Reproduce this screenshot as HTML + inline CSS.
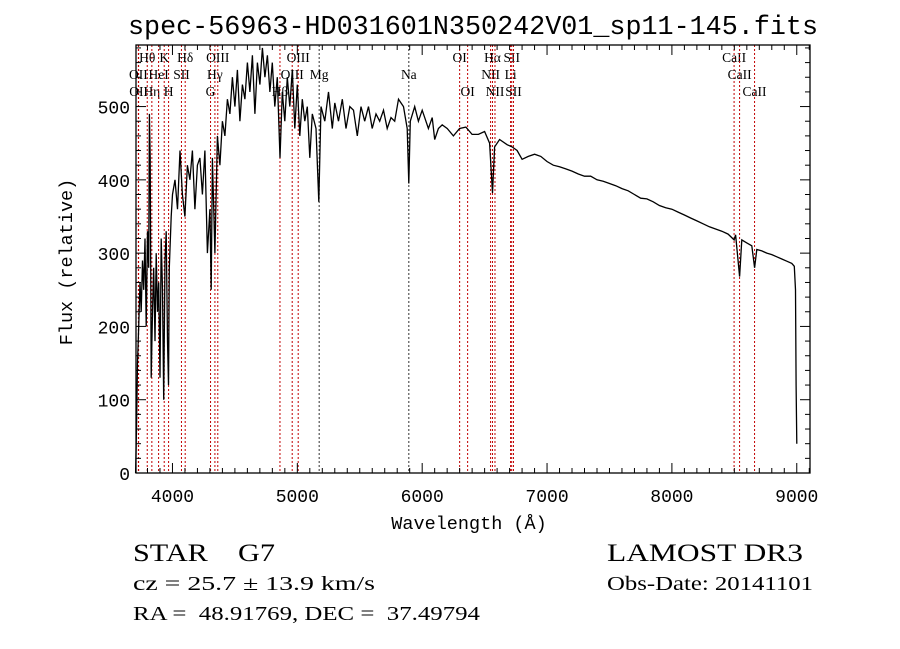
<!DOCTYPE html>
<html><head><meta charset="utf-8"><style>
body{margin:0;background:#fff;}
svg{display:block;}
text{font-family:"Liberation Mono",monospace;fill:#000;}
.lab{font-family:"Liberation Serif",serif;font-size:13.5px;}
.ser{font-family:"Liberation Serif",serif;}
</style></head><body>
<svg id="chart" width="900" height="649" viewBox="0 0 900 649" xmlns="http://www.w3.org/2000/svg">
<text x="128" y="34" font-size="26.5" textLength="690" lengthAdjust="spacingAndGlyphs">spec-56963-HD031601N350242V01_sp11-145.fits</text>
<g id="lines"></g>
<g id="axes"></g>
<path id="spec" fill="none" stroke="#000" stroke-width="1.3"/>
<text x="469" y="529" text-anchor="middle" font-size="18.5">Wavelength (Å)</text>
<text transform="translate(72,262) rotate(-90)" text-anchor="middle" font-size="18.5">Flux (relative)</text>
<text class="ser" x="133" y="561" font-size="25" textLength="142" lengthAdjust="spacingAndGlyphs" xml:space="preserve">STAR    G7</text>
<text class="ser" x="133" y="590" font-size="20" textLength="242" lengthAdjust="spacingAndGlyphs">cz = 25.7 ± 13.9 km/s</text>
<text class="ser" x="133" y="620" font-size="20" textLength="347" lengthAdjust="spacingAndGlyphs" xml:space="preserve">RA =  48.91769, DEC =  37.49794</text>
<text class="ser" x="607" y="561" font-size="25" textLength="196" lengthAdjust="spacingAndGlyphs">LAMOST DR3</text>
<text class="ser" x="607" y="590" font-size="20" textLength="206" lengthAdjust="spacingAndGlyphs">Obs-Date: 20141101</text>
</svg>
<script>
const wl=[3705,3712,3720,3730,3740,3750,3760,3770,3780,3790,3800,3810,3815,3822,3830,3840,3850,3860,3870,3880,3890,3900,3910,3920,3930,3940,3950,3960,3968,3975,3990,4000,4020,4040,4060,4080,4100,4120,4140,4160,4180,4200,4220,4240,4260,4280,4300,4310,4320,4340,4360,4380,4400,4420,4440,4460,4480,4500,4520,4540,4560,4580,4600,4620,4640,4660,4680,4700,4720,4740,4760,4780,4800,4820,4840,4861,4880,4900,4920,4940,4960,4980,5000,5020,5040,5060,5080,5100,5120,5150,5172,5190,5220,5250,5280,5300,5330,5360,5390,5420,5450,5480,5510,5540,5570,5600,5630,5660,5690,5720,5750,5780,5810,5850,5880,5893,5905,5940,5970,6000,6050,6080,6100,6130,6160,6200,6250,6300,6350,6400,6450,6500,6540,6563,6580,6620,6680,6720,6760,6800,6850,6900,6950,7000,7050,7100,7150,7200,7250,7300,7350,7400,7450,7500,7550,7600,7650,7700,7750,7800,7850,7900,7950,8000,8050,8100,8150,8200,8250,8300,8350,8400,8450,8498,8510,8542,8560,8600,8640,8662,8680,8720,8760,8800,8840,8880,8920,8960,8980,8990,8995,9000];
const flux=[0,60,150,200,260,220,290,250,320,200,330,280,490,430,130,220,280,180,300,220,260,130,320,250,100,290,330,180,120,280,350,380,400,360,440,380,350,420,400,440,360,420,430,380,440,300,360,250,430,300,460,420,480,460,510,490,540,500,550,480,530,510,560,520,570,490,560,530,580,540,570,520,560,500,540,430,520,480,540,500,550,470,530,460,510,480,500,430,490,470,370,500,480,520,470,505,480,510,470,500,495,460,500,480,500,470,490,480,495,470,485,480,510,500,470,395,480,500,480,495,470,485,455,470,475,470,460,470,472,462,462,466,450,382,445,455,448,445,440,428,432,435,432,425,420,418,415,412,408,405,405,400,398,395,392,388,385,380,375,374,370,365,362,360,356,352,348,344,340,336,333,330,326,318,325,268,318,314,310,280,305,303,300,298,295,292,289,286,282,250,120,40];
const lineWl=[3727,3729,3798,3835,3889,3934,3969,4072,4102,4305,4340,4363,4861,4959,5007,5175,5893,6300,6364,6548,6563,6583,6708,6717,6731,8498,8542,8662];
const lineName=["OII","OII","Hθ","Hη","HeI","K","H","SII","Hδ","G","Hγ","OIII","Hβ","OIII","OIII","Mg","Na","OI","OI","NII","Hα","NII","Li","SII","SII","CaII","CaII","CaII"];
const lineRow=[2,3,1,3,2,1,3,2,1,3,2,1,3,2,1,2,2,1,3,2,1,3,2,1,3,1,2,3];
const xTicks=[4000,5000,6000,7000,8000,9000];
const yTicks=[0,100,200,300,400,500];
const L=136,R=810,T=45,B=473,X0=3708,X1=9106,Y0=0,Y1=584;
const sx=w=>L+(w-X0)/(X1-X0)*(R-L);
const sy=f=>B-(f-Y0)/(Y1-Y0)*(B-T);
const NS="http://www.w3.org/2000/svg";
function mk(tag,attrs,parent){const e=document.createElementNS(NS,tag);for(const k in attrs)e.setAttribute(k,attrs[k]);parent.appendChild(e);return e;}
const ax=document.getElementById('axes'),lg=document.getElementById('lines');
lineWl.forEach((w,i)=>{
  const black=(lineName[i]==="Na"||lineName[i]==="Mg");
  const l=mk('line',{x1:sx(w),x2:sx(w),y1:T,y2:B,stroke:black?'#333':'#c00000','stroke-width':1,'stroke-dasharray':'2,2'},lg);
  
  
  const t=mk('text',{x:sx(w),y:T+17+(lineRow[i]-1)*17,'text-anchor':'middle','class':'lab'},lg);
  t.textContent=lineName[i];
  
  
});
const fr=mk('rect',{x:L,y:T,width:R-L,height:B-T,fill:'none',stroke:'#000','stroke-width':1.3},ax);


for(let w=3800;w<=9100;w+=100){
  const major=w%1000===0,len=major?10:5,x=sx(w);
  mk('line',{x1:x,x2:x,y1:B,y2:B-len,stroke:'#000'},ax);
  mk('line',{x1:x,x2:x,y1:T,y2:T+len,stroke:'#000'},ax);
}
for(let f=0;f<=580;f+=20){
  const major=f%100===0,len=major?10:5,y=sy(f);
  mk('line',{x1:L,x2:L+len,y1:y,y2:y,stroke:'#000'},ax);
  mk('line',{x1:R,x2:R-len,y1:y,y2:y,stroke:'#000'},ax);
}
xTicks.forEach(v=>{const t=mk('text',{x:sx(v),y:B+29,'text-anchor':'middle','font-size':18,'font-family':'Liberation Sans, sans-serif'},ax);t.textContent=v;
  
  });
yTicks.forEach(v=>{const t=mk('text',{x:L-6,y:sy(v)+7,'text-anchor':'end','font-size':18,'font-family':'Liberation Sans, sans-serif'},ax);t.textContent=v;
  
  });
let d='';wl.forEach((w,i)=>{d+=(i?'L':'M')+sx(w).toFixed(1)+','+sy(flux[i]).toFixed(1);});
document.getElementById('spec').setAttribute('d',d);
</script>
</body></html>
